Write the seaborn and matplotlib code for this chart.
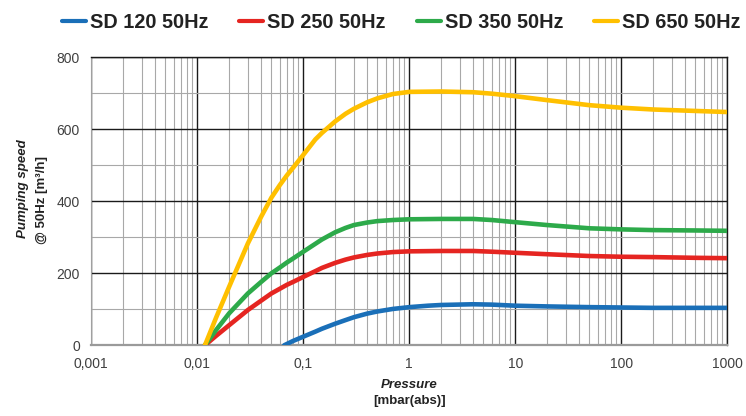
import matplotlib
matplotlib.use("Agg")
import matplotlib.pyplot as plt
from matplotlib.lines import Line2D
from matplotlib.ticker import LogLocator, MultipleLocator, NullFormatter
import pandas as pd
import seaborn as sns

# data
pumps = ["SD 120 50Hz", "SD 250 50Hz", "SD 350 50Hz", "SD 650 50Hz"]
colors = ["#1a6fb8", "#e52521", "#2daa4a", "#ffc000"]

p_sd120 = [0.066, 0.08, 0.1, 0.13, 0.15, 0.2, 0.25, 0.3, 0.4, 0.5, 0.7, 1, 1.5, 2, 4, 6,
           10, 20, 50, 100, 200, 500, 1000]
s_sd120 = [0, 12, 24, 38, 46, 60, 70, 78, 88, 94, 101, 106, 110, 112, 114, 113,
           110, 108, 106, 105, 104, 104, 104]

p_big = [0.0118, 0.015, 0.02, 0.03, 0.04, 0.05, 0.06, 0.07, 0.08, 0.1, 0.13, 0.15, 0.2,
         0.25, 0.3, 0.4, 0.5, 0.7, 1, 2, 4, 6, 10, 20, 50, 100, 200, 500, 1000]
s_sd250 = [0, 26, 56, 98, 124, 144, 157, 168, 176, 190, 206, 215, 229,
           238, 244, 251, 255, 259, 261, 262, 262, 260, 257, 253, 248, 246, 245, 243, 242]
s_sd350 = [0, 42, 89, 144, 176, 200, 216, 230, 241, 260, 282, 294, 314,
           326, 334, 341, 345, 348, 350, 351, 351, 348, 342, 334, 325, 322, 320, 319, 318]
s_sd650 = [0, 76, 163, 283, 357, 410, 445, 472, 493, 529, 572, 590, 622,
           643, 657, 675, 686, 698, 704, 705, 703, 699, 692, 681, 667, 660, 655, 651, 648]

x_ticks = [0.001, 0.01, 0.1, 1, 10, 100, 1000]
x_labels = ["0,001", "0,01", "0,1", "1", "10", "100", "1000"]
y_ticks = [0, 200, 400, 600, 800]

df = pd.concat([
    pd.DataFrame({"pressure": p_sd120, "speed": s_sd120, "pump": pumps[0]}),
    pd.DataFrame({"pressure": p_big, "speed": s_sd250, "pump": pumps[1]}),
    pd.DataFrame({"pressure": p_big, "speed": s_sd350, "pump": pumps[2]}),
    pd.DataFrame({"pressure": p_big, "speed": s_sd650, "pump": pumps[3]}),
], ignore_index=True)

sns.set_style("white")
plt.rcParams["font.family"] = ["Liberation Sans", "DejaVu Sans"]

W, H = 746, 416
fig = plt.figure(figsize=(W / 100, H / 100), dpi=100)
ax = fig.add_axes([91.3 / W, 1 - 345.3 / H, 636 / W, 288 / H])
ax.set_xscale("log")

sns.lineplot(data=df, x="pressure", y="speed", hue="pump", hue_order=pumps,
             palette=colors, sort=False, estimator=None, linewidth=3.3,
             solid_capstyle="round", solid_joinstyle="round", legend=False,
             ax=ax, zorder=3)

ax.set_xlim(0.001, 1000)
ax.set_ylim(0, 800)
ax.set_xticks(x_ticks)
ax.set_xticklabels(x_labels)
ax.xaxis.set_minor_locator(LogLocator(base=10, subs=range(2, 10)))
ax.xaxis.set_minor_formatter(NullFormatter())
ax.set_yticks(y_ticks)
ax.yaxis.set_minor_locator(MultipleLocator(100))
ax.set_xlabel("")
ax.set_ylabel("")

ax.set_axisbelow(True)
ax.grid(which="major", color="#1a1a1a", lw=1.0)
ax.grid(which="minor", color="#a8a8a8", lw=0.8)

ax.tick_params(which="major", length=3.2, width=0.8, color="#999999",
               labelsize=10, labelcolor="#404040", pad=5)
ax.tick_params(axis="x", which="minor", length=2, width=0.6, color="#999999")
ax.tick_params(axis="y", which="minor", length=0)

for side in ["top", "right"]:
    ax.spines[side].set_color("#1a1a1a")
    ax.spines[side].set_linewidth(1.0)
ax.spines["left"].set_color("#a0a0a0")
ax.spines["left"].set_linewidth(0.8)
ax.spines["bottom"].set_color("#9a9a9a")
ax.spines["bottom"].set_linewidth(1.6)

# axis titles
fig.text(23 / W, 1 - 189 / H, "Pumping speed", rotation=90, ha="center", va="center",
         weight="bold", style="italic", size=9.5, color="#222222")
fig.text(41.7 / W, 1 - 200 / H, "@ 50Hz [m³/h]", rotation=90, ha="center", va="center",
         weight="bold", size=9.5, color="#222222")
fig.text(409.3 / W, 1 - 385 / H, "Pressure", ha="center", va="center",
         weight="bold", style="italic", size=9.5, color="#222222")
fig.text(409.3 / W, 1 - 401 / H, "[mbar(abs)]", ha="center", va="center",
         weight="bold", size=9.5, color="#222222")

# legend across the top
handles = [Line2D([], [], color=c, lw=3) for c in colors]
leg = fig.legend(handles, pumps, loc="center left", bbox_to_anchor=(61.7 / W, 1 - 22 / H),
                 ncol=4, frameon=False, prop=dict(weight="bold", size=14.3),
                 handlelength=1.2, handletextpad=0.22, columnspacing=1.55,
                 borderpad=0, borderaxespad=0)
for t in leg.get_texts():
    t.set_color("#222222")

fig.savefig("out.png", dpi=100)
